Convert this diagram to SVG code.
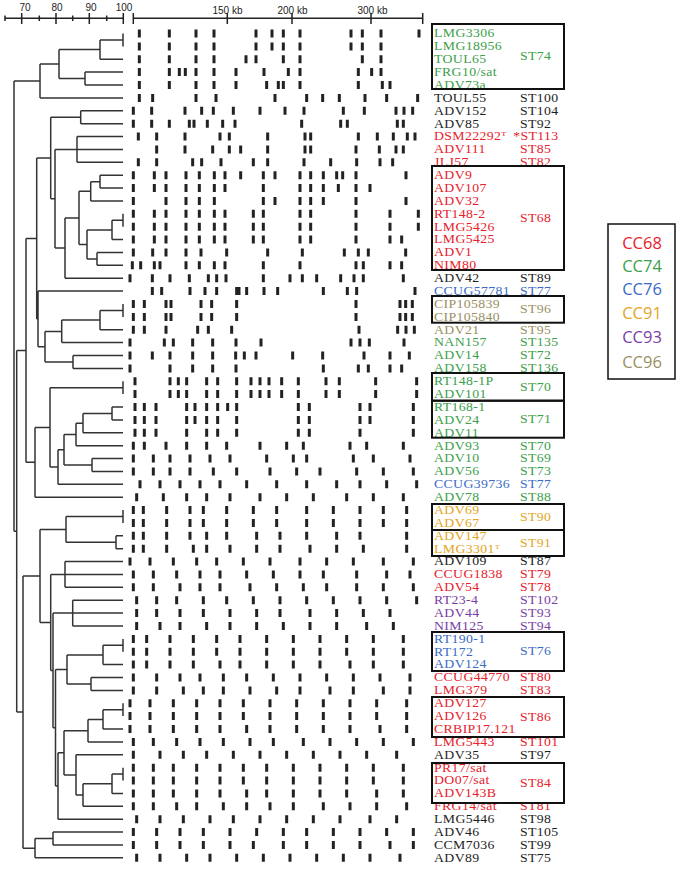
<svg xmlns="http://www.w3.org/2000/svg" width="680" height="872" viewBox="0 0 680 872">
<style>
.t{font-family:"Liberation Serif",serif;font-size:11.5px;letter-spacing:0.3px}
.s{font-family:"Liberation Sans",Arial,sans-serif;font-size:10px;fill:#222}
.lg{font-family:"Open Sans","Liberation Sans",sans-serif;font-size:16.5px;text-anchor:middle}
.g{fill:#3ca04a}.r{fill:#e8212b}.k{fill:#1e1e1e}.b{fill:#3a6cc4}.o{fill:#9a8f62}.y{fill:#e3a521}.p{fill:#7a3da6}
.box{fill:none;stroke:#111;stroke-width:2}
.tree{fill:none;stroke:#333;stroke-width:1.5}
.axis{fill:none;stroke:#222;stroke-width:1.5}
.bands path{fill:none;stroke:#222;stroke-width:9}
.sup{font-size:7px}
</style>
<rect width="680" height="872" fill="#fff"/>
<g id="scale">
<path class="axis" d="M5 18.3H123.3M5 15.5V21M21.7 13V24M39.3 15.5V21M56 13V24M72.7 15.5V21M89.3 13V24M106.7 15.5V21M123.3 13V24"/>
<path class="axis" d="M133.3 18.3H422.7M133.3 13V24M422.7 13V24M227.3 13V24M292 13V24M371 13V24"/>
<text class="s" x="25" y="11" text-anchor="middle">70</text>
<text class="s" x="57" y="11" text-anchor="middle">80</text>
<text class="s" x="91" y="11" text-anchor="middle">90</text>
<text class="s" x="124" y="11" text-anchor="middle">100</text>
<text class="s" x="227.5" y="14" text-anchor="middle">150 kb</text>
<text class="s" x="292.5" y="14" text-anchor="middle">200 kb</text>
<text class="s" x="372.5" y="14" text-anchor="middle">300 kb</text>
</g>
<g id="connectors" class="tree">
<path d="M123 33.5V46.4M100 40V59.3M100 40H123M100 59.3H123M85 72.1V85M85 72.1H123M85 85H123M59 49.6V78.6M59 49.6H100M59 78.6H85M40 64.1V97.9M40 64.1H59M40 97.9H123"/>
<path d="M80.7 110.8V123.7M80.7 110.8H123M80.7 123.7H123M77 136.5V162.3M77 136.5H123M77 149.4H123M77 162.3H123M100 175.2V188.1M100 175.2H123M100 188.1H123M90.7 181.7V200.9M90.7 181.7H100M90.7 200.9H123M123 213.8V226.7M112 220.3V239.6M112 220.3H123M112 239.6H123M97 252.5V265.3M97 252.5H123M97 265.3H123M87 230V258.9M87 230H112M87 258.9H97M79 191.3V244.5M79 191.3H90.7M79 244.5H87M65 217.9V278.2M65 217.9H79M65 278.2H123M55 149.4V248M55 149.4H77M55 248H65M50.7 117.3V198.7M50.7 117.3H80.7M50.7 198.7H55"/>
<path d="M123 304V316.9M100 310.5V329.7M100 310.5H123M100 329.7H123M61.7 320.1V342.6M61.7 320.1H100M61.7 342.6H123M73 355.5V368.4M73 355.5H123M73 368.4H123M45 331.4V362M45 331.4H61.7M45 362H73M38 291.1V346.7M38 291.1H123M38 346.7H45M36.7 158V318.9M36.7 158H50.7M36.7 318.9H38"/>
<path d="M123 381.3V394.1M112 407V419.9M112 407H123M112 419.9H123M83 413.5V432.8M83 413.5H112M83 432.8H123M76 423.2V445.7M76 423.2H83M76 445.7H123M92 458.5V471.4M92 458.5H123M92 471.4H123M64 434.5V465M64 434.5H76M64 465H92M58 449.7V484.3M58 449.7H64M58 484.3H123M50 387.7V467M50 387.7H123M50 467H58M35 427.4V497.2M35 427.4H50M35 497.2H123M26 238.5V462.3M26 238.5H36.7M26 462.3H35"/>
<path d="M123 510.1V522.9M116 535.8V548.7M116 535.8H123M116 548.7H123M66 516.5V542.3M66 516.5H123M66 542.3H116M65 561.6V587.3M65 561.6H123M65 574.5H123M65 587.3H123M72.7 600.2V626M72.7 600.2H123M72.7 613.1H123M72.7 626H123"/>
<path d="M123 638.9V651.7M103 645.3V664.6M103 645.3H123M103 664.6H123M91 677.5V690.4M91 677.5H123M91 690.4H123M67 655V684M67 655H103M67 684H91M123 703.3V716.1M103 709.7V729M103 709.7H123M103 729H123M88 719.4V741.9M88 719.4H103M88 741.9H123M123 767.7V780.5M112 774.1V793.4M112 774.1H123M112 793.4H123M83 783.8V806.3M83 783.8H112M83 806.3H123M76 754.8V795M76 754.8H123M76 795H83M64 730.7V774.9M64 730.7H88M64 774.9H76M58 752.8V819.2M58 752.8H64M58 819.2H123M55.5 669.5V786M55.5 669.5H67M55.5 786H58M53 613.1V727.8M53 613.1H72.7M53 727.8H55.5M50.7 574.5V670.5M50.7 574.5H65M50.7 670.5H53M40 529.4V622.5M40 529.4H66M40 622.5H50.7"/>
<path d="M53 832.1V844.9M53 832.1H123M53 844.9H123M35 838.5V857.8M35 838.5H53M35 857.8H123M23 576V848.2M23 576H40M23 848.2H35M16.7 350.4V712.1M16.7 350.4H26M16.7 712.1H23M14 81V531.3M14 81H40M14 531.3H16.7"/>
</g>
<g id="bands" class="bands" transform="matrix(0.33333 0 0 1 120 0)">
<path d="M58 29.5v8M148 29.5v8M228 29.5v8M282 29.5v8M408 29.5v8M456 29.5v8M490 29.5v8M540 29.5v8M693 29.5v8M727 29.5v8M783 29.5v8M897 29.5v8"/>
<path d="M58 42.4v8M148 42.4v8M228 42.4v8M282 42.4v8M408 42.4v8M456 42.4v8M490 42.4v8M540 42.4v8M693 42.4v8M727 42.4v8M783 42.4v8"/>
<path d="M58 55.3v8M148 55.3v8M228 55.3v8M282 55.3v8M378 55.3v8M408 55.3v8M490 55.3v8M540 55.3v8M727 55.3v8M783 55.3v8"/>
<path d="M58 68.1v8M148 68.1v8M178 68.1v8M196 68.1v8M228 68.1v8M282 68.1v8M348 68.1v8M432 68.1v8M505 68.1v8M540 68.1v8M715 68.1v8M755 68.1v8M783 68.1v8"/>
<path d="M58 81v8M148 81v8M228 81v8M282 81v8M348 81v8M440 81v8M475 81v8M490 81v8M540 81v8M715 81v8M787 81v8M810 81v8"/>
<path d="M58 93.9v8M98 93.9v8M228 93.9v8M288 93.9v8M465 93.9v8M560 93.9v8M608 93.9v8M658 93.9v8M735 93.9v8M800 93.9v8M893 93.9v8"/>
<path d="M40 106.8v8M95 106.8v8M195 106.8v8M245 106.8v8M280 106.8v8M340 106.8v8M420 106.8v8M495 106.8v8M552 106.8v8M670 106.8v8M733 106.8v8M828 106.8v8M852 106.8v8M878 106.8v8"/>
<path d="M40 119.7v8M95 119.7v8M148 119.7v8M208 119.7v8M222 119.7v8M262 119.7v8M308 119.7v8M345 119.7v8M545 119.7v8M662 119.7v8M682 119.7v8M832 119.7v8M850 119.7v8"/>
<path d="M55 132.5v8M110 132.5v8M195 132.5v8M300 132.5v8M328 132.5v8M443 132.5v8M555 132.5v8M572 132.5v8M715 132.5v8M772 132.5v8M820 132.5v8M862 132.5v8M885 132.5v8"/>
<path d="M110 145.4v8M195 145.4v8M278 145.4v8M328 145.4v8M362 145.4v8M443 145.4v8M555 145.4v8M572 145.4v8M708 145.4v8M778 145.4v8M828 145.4v8M850 145.4v8"/>
<path d="M55 158.3v8M110 158.3v8M218 158.3v8M245 158.3v8M303 158.3v8M400 158.3v8M443 158.3v8M552 158.3v8M632 158.3v8M710 158.3v8M780 158.3v8M818 158.3v8"/>
<path d="M40 171.2v8M103 171.2v8M138 171.2v8M198 171.2v8M238 171.2v8M283 171.2v8M315 171.2v8M362 171.2v8M430 171.2v8M465 171.2v8M540 171.2v8M572 171.2v8M610 171.2v8M650 171.2v8M668 171.2v8M708 171.2v8M858 171.2v8"/>
<path d="M40 184.1v8M103 184.1v8M138 184.1v8M198 184.1v8M238 184.1v8M283 184.1v8M315 184.1v8M430 184.1v8M540 184.1v8M572 184.1v8M610 184.1v8M655 184.1v8M708 184.1v8M750 184.1v8"/>
<path d="M40 196.9v8M138 196.9v8M198 196.9v8M238 196.9v8M283 196.9v8M430 196.9v8M465 196.9v8M540 196.9v8M572 196.9v8M610 196.9v8M708 196.9v8M858 196.9v8"/>
<path d="M40 209.8v8M103 209.8v8M138 209.8v8M198 209.8v8M238 209.8v8M283 209.8v8M315 209.8v8M400 209.8v8M430 209.8v8M540 209.8v8M572 209.8v8M708 209.8v8M810 209.8v8M895 209.8v8"/>
<path d="M40 222.7v8M103 222.7v8M138 222.7v8M198 222.7v8M238 222.7v8M283 222.7v8M315 222.7v8M400 222.7v8M430 222.7v8M540 222.7v8M572 222.7v8M708 222.7v8M810 222.7v8M895 222.7v8"/>
<path d="M40 235.6v8M103 235.6v8M138 235.6v8M198 235.6v8M238 235.6v8M283 235.6v8M315 235.6v8M400 235.6v8M430 235.6v8M540 235.6v8M572 235.6v8M708 235.6v8M810 235.6v8M845 235.6v8"/>
<path d="M40 248.5v8M98 248.5v8M138 248.5v8M198 248.5v8M243 248.5v8M320 248.5v8M443 248.5v8M547 248.5v8M673 248.5v8M715 248.5v8M745 248.5v8M857 248.5v8"/>
<path d="M37 261.3v8M62 261.3v8M103 261.3v8M120 261.3v8M198 261.3v8M238 261.3v8M283 261.3v8M315 261.3v8M430 261.3v8M540 261.3v8M708 261.3v8M730 261.3v8M810 261.3v8M845 261.3v8"/>
<path d="M30 274.2v8M97 274.2v8M150 274.2v8M208 274.2v8M265 274.2v8M290 274.2v8M318 274.2v8M430 274.2v8M510 274.2v8M547 274.2v8M590 274.2v8M662 274.2v8M702 274.2v8M730 274.2v8M850 274.2v8"/>
<path d="M97 287.1v8M125 287.1v8M210 287.1v8M255 287.1v8M290 287.1v8M350 287.1v8M357 287.1v8M380 287.1v8M432 287.1v8M473 287.1v8M610 287.1v8M682 287.1v8M710 287.1v8M885 287.1v8"/>
<path d="M40 300v8M73 300v8M138 300v8M153 300v8M243 300v8M275 300v8M350 300v8M708 300v8M840 300v8M857 300v8M877 300v8"/>
<path d="M40 312.9v8M73 312.9v8M138 312.9v8M153 312.9v8M243 312.9v8M275 312.9v8M350 312.9v8M708 312.9v8M840 312.9v8M857 312.9v8M877 312.9v8"/>
<path d="M40 325.7v8M73 325.7v8M138 325.7v8M233 325.7v8M265 325.7v8M335 325.7v8M717 325.7v8M833 325.7v8M858 325.7v8M883 325.7v8"/>
<path d="M30 338.6v8M133 338.6v8M160 338.6v8M218 338.6v8M278 338.6v8M348 338.6v8M423 338.6v8M693 338.6v8M720 338.6v8M748 338.6v8M852 338.6v8"/>
<path d="M30 351.5v8M97 351.5v8M150 351.5v8M218 351.5v8M278 351.5v8M347 351.5v8M373 351.5v8M408 351.5v8M518 351.5v8M608 351.5v8M732 351.5v8M810 351.5v8M868 351.5v8"/>
<path d="M30 364.4v8M150 364.4v8M218 364.4v8M278 364.4v8M348 364.4v8M610 364.4v8M715 364.4v8M745 364.4v8M810 364.4v8M845 364.4v8"/>
<path d="M45 377.3v8M150 377.3v8M175 377.3v8M200 377.3v8M260 377.3v8M293 377.3v8M350 377.3v8M393 377.3v8M420 377.3v8M447 377.3v8M485 377.3v8M535 377.3v8M618 377.3v8M658 377.3v8M767 377.3v8M890 377.3v8"/>
<path d="M45 390.1v8M150 390.1v8M175 390.1v8M200 390.1v8M260 390.1v8M293 390.1v8M350 390.1v8M393 390.1v8M420 390.1v8M447 390.1v8M485 390.1v8M535 390.1v8M618 390.1v8M658 390.1v8M767 390.1v8M890 390.1v8"/>
<path d="M45 403v8M73 403v8M108 403v8M200 403v8M225 403v8M260 403v8M293 403v8M323 403v8M350 403v8M535 403v8M568 403v8M720 403v8M750 403v8M880 403v8"/>
<path d="M45 415.9v8M73 415.9v8M108 415.9v8M200 415.9v8M225 415.9v8M260 415.9v8M293 415.9v8M350 415.9v8M535 415.9v8M568 415.9v8M720 415.9v8M750 415.9v8M880 415.9v8"/>
<path d="M45 428.8v8M73 428.8v8M108 428.8v8M200 428.8v8M260 428.8v8M293 428.8v8M350 428.8v8M535 428.8v8M568 428.8v8M720 428.8v8M880 428.8v8"/>
<path d="M40 441.7v8M73 441.7v8M138 441.7v8M200 441.7v8M260 441.7v8M320 441.7v8M420 441.7v8M500 441.7v8M550 441.7v8M690 441.7v8M740 441.7v8M850 441.7v8"/>
<path d="M40 454.5v8M100 454.5v8M150 454.5v8M210 454.5v8M270 454.5v8M330 454.5v8M440 454.5v8M520 454.5v8M560 454.5v8M700 454.5v8M760 454.5v8M870 454.5v8"/>
<path d="M40 467.4v8M100 467.4v8M150 467.4v8M210 467.4v8M280 467.4v8M350 467.4v8M450 467.4v8M530 467.4v8M600 467.4v8M710 467.4v8M790 467.4v8M880 467.4v8"/>
<path d="M60 480.3v8M120 480.3v8M180 480.3v8M240 480.3v8M300 480.3v8M380 480.3v8M470 480.3v8M560 480.3v8M650 480.3v8M720 480.3v8M800 480.3v8M890 480.3v8"/>
<path d="M50 493.2v8M130 493.2v8M200 493.2v8M260 493.2v8M330 493.2v8M420 493.2v8M500 493.2v8M580 493.2v8M680 493.2v8M760 493.2v8M850 493.2v8"/>
<path d="M40 506.1v8M70 506.1v8M140 506.1v8M210 506.1v8M250 506.1v8M320 506.1v8M400 506.1v8M470 506.1v8M560 506.1v8M640 506.1v8M720 506.1v8M790 506.1v8M860 506.1v8"/>
<path d="M40 518.9v8M70 518.9v8M140 518.9v8M210 518.9v8M250 518.9v8M320 518.9v8M400 518.9v8M470 518.9v8M560 518.9v8M640 518.9v8M720 518.9v8M790 518.9v8M860 518.9v8"/>
<path d="M40 531.8v8M70 531.8v8M140 531.8v8M210 531.8v8M260 531.8v8M320 531.8v8M410 531.8v8M480 531.8v8M560 531.8v8M650 531.8v8M720 531.8v8M860 531.8v8"/>
<path d="M40 544.7v8M70 544.7v8M140 544.7v8M220 544.7v8M260 544.7v8M330 544.7v8M410 544.7v8M480 544.7v8M570 544.7v8M650 544.7v8M730 544.7v8M860 544.7v8"/>
<path d="M30 557.6v8M90 557.6v8M160 557.6v8M230 557.6v8M290 557.6v8M370 557.6v8M450 557.6v8M540 557.6v8M620 557.6v8M700 557.6v8M790 557.6v8M880 557.6v8"/>
<path d="M40 570.5v8M100 570.5v8M170 570.5v8M240 570.5v8M300 570.5v8M380 570.5v8M460 570.5v8M540 570.5v8M610 570.5v8M710 570.5v8M800 570.5v8M870 570.5v8"/>
<path d="M40 583.3v8M100 583.3v8M180 583.3v8M240 583.3v8M300 583.3v8M390 583.3v8M470 583.3v8M550 583.3v8M620 583.3v8M710 583.3v8M790 583.3v8M880 583.3v8"/>
<path d="M50 596.2v8M110 596.2v8M170 596.2v8M250 596.2v8M320 596.2v8M400 596.2v8M480 596.2v8M560 596.2v8M640 596.2v8M720 596.2v8M800 596.2v8M890 596.2v8"/>
<path d="M50 609.1v8M110 609.1v8M180 609.1v8M250 609.1v8M330 609.1v8M410 609.1v8M480 609.1v8M570 609.1v8M650 609.1v8M730 609.1v8M810 609.1v8"/>
<path d="M50 622v8M120 622v8M180 622v8M260 622v8M330 622v8M410 622v8M490 622v8M570 622v8M650 622v8M740 622v8M820 622v8"/>
<path d="M40 634.9v8M80 634.9v8M150 634.9v8M220 634.9v8M290 634.9v8M360 634.9v8M440 634.9v8M520 634.9v8M600 634.9v8M680 634.9v8M760 634.9v8M850 634.9v8"/>
<path d="M40 647.7v8M80 647.7v8M150 647.7v8M220 647.7v8M290 647.7v8M360 647.7v8M440 647.7v8M520 647.7v8M600 647.7v8M680 647.7v8M760 647.7v8M850 647.7v8"/>
<path d="M40 660.6v8M80 660.6v8M150 660.6v8M220 660.6v8M300 660.6v8M360 660.6v8M440 660.6v8M520 660.6v8M600 660.6v8M690 660.6v8M760 660.6v8M850 660.6v8"/>
<path d="M40 673.5v8M110 673.5v8M180 673.5v8M240 673.5v8M310 673.5v8M380 673.5v8M460 673.5v8M540 673.5v8M620 673.5v8M700 673.5v8M780 673.5v8M870 673.5v8"/>
<path d="M40 686.4v8M110 686.4v8M190 686.4v8M250 686.4v8M310 686.4v8M390 686.4v8M470 686.4v8M540 686.4v8M630 686.4v8M700 686.4v8M790 686.4v8M870 686.4v8"/>
<path d="M30 699.3v8M90 699.3v8M160 699.3v8M230 699.3v8M300 699.3v8M370 699.3v8M450 699.3v8M530 699.3v8M610 699.3v8M690 699.3v8M770 699.3v8M860 699.3v8"/>
<path d="M30 712.1v8M90 712.1v8M160 712.1v8M230 712.1v8M300 712.1v8M370 712.1v8M450 712.1v8M530 712.1v8M610 712.1v8M690 712.1v8M770 712.1v8M860 712.1v8"/>
<path d="M30 725v8M90 725v8M160 725v8M230 725v8M300 725v8M380 725v8M450 725v8M530 725v8M610 725v8M690 725v8M780 725v8M860 725v8"/>
<path d="M40 737.9v8M100 737.9v8M170 737.9v8M240 737.9v8M310 737.9v8M390 737.9v8M460 737.9v8M550 737.9v8M630 737.9v8M710 737.9v8M790 737.9v8M880 737.9v8"/>
<path d="M40 750.8v8M120 750.8v8M190 750.8v8M260 750.8v8M340 750.8v8M420 750.8v8M500 750.8v8M580 750.8v8M660 750.8v8M740 750.8v8M830 750.8v8"/>
<path d="M40 763.7v8M100 763.7v8M160 763.7v8M230 763.7v8M300 763.7v8M370 763.7v8M440 763.7v8M520 763.7v8M600 763.7v8M680 763.7v8M760 763.7v8M850 763.7v8"/>
<path d="M40 776.5v8M100 776.5v8M160 776.5v8M230 776.5v8M300 776.5v8M370 776.5v8M440 776.5v8M520 776.5v8M600 776.5v8M680 776.5v8M760 776.5v8M850 776.5v8"/>
<path d="M40 789.4v8M100 789.4v8M160 789.4v8M230 789.4v8M300 789.4v8M380 789.4v8M440 789.4v8M520 789.4v8M600 789.4v8M680 789.4v8M770 789.4v8M850 789.4v8"/>
<path d="M40 802.3v8M100 802.3v8M170 802.3v8M230 802.3v8M310 802.3v8M380 802.3v8M450 802.3v8M520 802.3v8M610 802.3v8M690 802.3v8M770 802.3v8M860 802.3v8"/>
<path d="M50 815.2v8M120 815.2v8M190 815.2v8M270 815.2v8M340 815.2v8M420 815.2v8M500 815.2v8M580 815.2v8M660 815.2v8M750 815.2v8M830 815.2v8"/>
<path d="M40 828.1v8M110 828.1v8M180 828.1v8M250 828.1v8M330 828.1v8M410 828.1v8M490 828.1v8M560 828.1v8M640 828.1v8M720 828.1v8M800 828.1v8M880 828.1v8"/>
<path d="M40 840.9v8M110 840.9v8M180 840.9v8M250 840.9v8M330 840.9v8M400 840.9v8M490 840.9v8M560 840.9v8M640 840.9v8M720 840.9v8M810 840.9v8M880 840.9v8"/>
<path d="M50 853.8v8M120 853.8v8M200 853.8v8M270 853.8v8M350 853.8v8M430 853.8v8M510 853.8v8M590 853.8v8M670 853.8v8M750 853.8v8M840 853.8v8"/>
</g>
<g id="labels" class="t" transform="translate(434 0) scale(1.2 1)">
<g id="ST74" class="g"><text x="0" y="37.4">LMG3306</text><text x="0" y="50.3">LMG18956</text><text x="0" y="63.2">TOUL65</text><text x="0" y="76">FRG10/sat</text><text x="0" y="88.9">ADV73a</text><text x="71.7" y="60.4">ST74</text></g>
<g id="TOUL55" class="k"><text x="0" y="101.8">TOUL55</text><text x="71.7" y="101.8">ST100</text></g>
<g id="ADV152" class="k"><text x="0" y="114.7">ADV152</text><text x="71.7" y="114.7">ST104</text></g>
<g id="ADV85" class="k"><text x="0" y="127.6">ADV85</text><text x="71.7" y="127.6">ST92</text></g>
<g id="DSM22292" class="r"><text x="0" y="140.4">DSM22292<tspan class="sup" dy="-4">T</tspan></text><text x="66" y="140.4">*ST113</text></g>
<g id="ADV111" class="r"><text x="0" y="153.3">ADV111</text><text x="71.7" y="153.3">ST85</text></g>
<g id="JLJ57" class="r"><text x="0" y="166.2">JLJ57</text><text x="71.7" y="166.2">ST82</text></g>
<g id="ST68" class="r"><text x="0" y="179.1">ADV9</text><text x="0" y="192">ADV107</text><text x="0" y="204.8">ADV32</text><text x="0" y="217.7">RT148-2</text><text x="0" y="230.6">LMG5426</text><text x="0" y="243.5">LMG5425</text><text x="0" y="256.4">ADV1</text><text x="0" y="269.2">NIM80</text><text x="71.7" y="221.9">ST68</text></g>
<g id="ADV42" class="k"><text x="0" y="282.1">ADV42</text><text x="71.7" y="282.1">ST89</text></g>
<g id="CCUG57781" class="b"><text x="0" y="295">CCUG57781</text><text x="71.7" y="295">ST77</text></g>
<g id="ST96" class="o"><text x="0" y="307.9">CIP105839</text><text x="0" y="320.8">CIP105840</text><text x="71.7" y="313.3">ST96</text></g>
<g id="ADV21" class="o"><text x="0" y="333.6">ADV21</text><text x="71.7" y="333.6">ST95</text></g>
<g id="NAN157" class="g"><text x="0" y="346.5">NAN157</text><text x="71.7" y="346.5">ST135</text></g>
<g id="ADV14" class="g"><text x="0" y="359.4">ADV14</text><text x="71.7" y="359.4">ST72</text></g>
<g id="ADV158" class="g"><text x="0" y="372.3">ADV158</text><text x="71.7" y="372.3">ST136</text></g>
<g id="ST70" class="g"><text x="0" y="385.2">RT148-1P</text><text x="0" y="398">ADV101</text><text x="71.7" y="390.7">ST70</text></g>
<g id="ST71" class="g"><text x="0" y="410.9">RT168-1</text><text x="0" y="423.8">ADV24</text><text x="0" y="436.7">ADV11</text><text x="71.7" y="423.1">ST71</text></g>
<g id="ADV93" class="g"><text x="0" y="449.6">ADV93</text><text x="71.7" y="449.6">ST70</text></g>
<g id="ADV10" class="g"><text x="0" y="462.4">ADV10</text><text x="71.7" y="462.4">ST69</text></g>
<g id="ADV56" class="g"><text x="0" y="475.3">ADV56</text><text x="71.7" y="475.3">ST73</text></g>
<g id="CCUG39736" class="b"><text x="0" y="488.2">CCUG39736</text><text x="71.7" y="488.2">ST77</text></g>
<g id="ADV78" class="g"><text x="0" y="501.1">ADV78</text><text x="71.7" y="501.1">ST88</text></g>
<g id="ST90" class="y"><text x="0" y="514">ADV69</text><text x="0" y="526.8">ADV67</text><text x="71.7" y="520.9">ST90</text></g>
<g id="ST91" class="y"><text x="0" y="539.7">ADV147</text><text x="0" y="552.6">LMG3301<tspan class="sup" dy="-4">T</tspan></text><text x="71.7" y="546.9">ST91</text></g>
<g id="ADV109" class="k"><text x="0" y="565.5">ADV109</text><text x="71.7" y="565.5">ST87</text></g>
<g id="CCUG1838" class="r"><text x="0" y="578.4">CCUG1838</text><text x="71.7" y="578.4">ST79</text></g>
<g id="ADV54" class="r"><text x="0" y="591.2">ADV54</text><text x="71.7" y="591.2">ST78</text></g>
<g id="RT23-4" class="p"><text x="0" y="604.1">RT23-4</text><text x="71.7" y="604.1">ST102</text></g>
<g id="ADV44" class="p"><text x="0" y="617">ADV44</text><text x="71.7" y="617">ST93</text></g>
<g id="NIM125" class="p"><text x="0" y="629.9">NIM125</text><text x="71.7" y="629.9">ST94</text></g>
<g id="ST76" class="b"><text x="0" y="642.8">RT190-1</text><text x="0" y="655.6">RT172</text><text x="0" y="668.5">ADV124</text><text x="71.7" y="655.4">ST76</text></g>
<g id="CCUG44770" class="r"><text x="0" y="681.4">CCUG44770</text><text x="71.7" y="681.4">ST80</text></g>
<g id="LMG379" class="r"><text x="0" y="694.3">LMG379</text><text x="71.7" y="694.3">ST83</text></g>
<g id="ST86" class="r"><text x="0" y="707.2">ADV127</text><text x="0" y="720">ADV126</text><text x="0" y="732.9">CRBIP17.121</text><text x="71.7" y="720.9">ST86</text></g>
<g id="LMG5443" class="r"><text x="0" y="745.8">LMG5443</text><text x="71.7" y="745.8">ST101</text></g>
<g id="ADV35" class="k"><text x="0" y="758.7">ADV35</text><text x="71.7" y="758.7">ST97</text></g>
<g id="ST84" class="r"><text x="0" y="771.6">PR17/sat</text><text x="0" y="784.4">DO07/sat</text><text x="0" y="797.3">ADV143B</text><text x="71.7" y="786.9">ST84</text></g>
<g id="FRG14" class="r"><text x="0" y="810.2">FRG14/sat</text><text x="71.7" y="810.2">ST81</text></g>
<g id="LMG5446" class="k"><text x="0" y="823.1">LMG5446</text><text x="71.7" y="823.1">ST98</text></g>
<g id="ADV46" class="k"><text x="0" y="836">ADV46</text><text x="71.7" y="836">ST105</text></g>
<g id="CCM7036" class="k"><text x="0" y="848.8">CCM7036</text><text x="71.7" y="848.8">ST99</text></g>
<g id="ADV89" class="k"><text x="0" y="861.7">ADV89</text><text x="71.7" y="861.7">ST75</text></g>
</g>
<g id="boxes" class="box">
<rect x="432" y="24" width="132" height="65"/>
<rect x="432" y="166" width="132" height="104"/>
<rect x="432" y="296" width="132" height="26.7"/>
<rect x="432" y="373" width="132" height="27.7"/>
<rect x="432" y="400.7" width="132" height="37"/>
<rect x="432" y="504" width="132" height="26"/>
<rect x="432" y="530" width="132" height="26"/>
<rect x="432" y="632" width="132" height="39"/>
<rect x="432" y="697" width="132" height="40"/>
<rect x="432" y="763" width="132" height="40"/>
</g>
<g id="legend">
<rect x="608" y="224" width="67" height="155" fill="#fff" stroke="#111" stroke-width="1.5"/>
<text class="lg r" x="642" y="248.5">CC68</text>
<text class="lg g" x="642" y="271.5">CC74</text>
<text class="lg b" x="642" y="295">CC76</text>
<text class="lg y" x="642" y="319">CC91</text>
<text class="lg p" x="642" y="342.5">CC93</text>
<text class="lg o" x="642" y="367.5">CC96</text>
</g>
</svg>
